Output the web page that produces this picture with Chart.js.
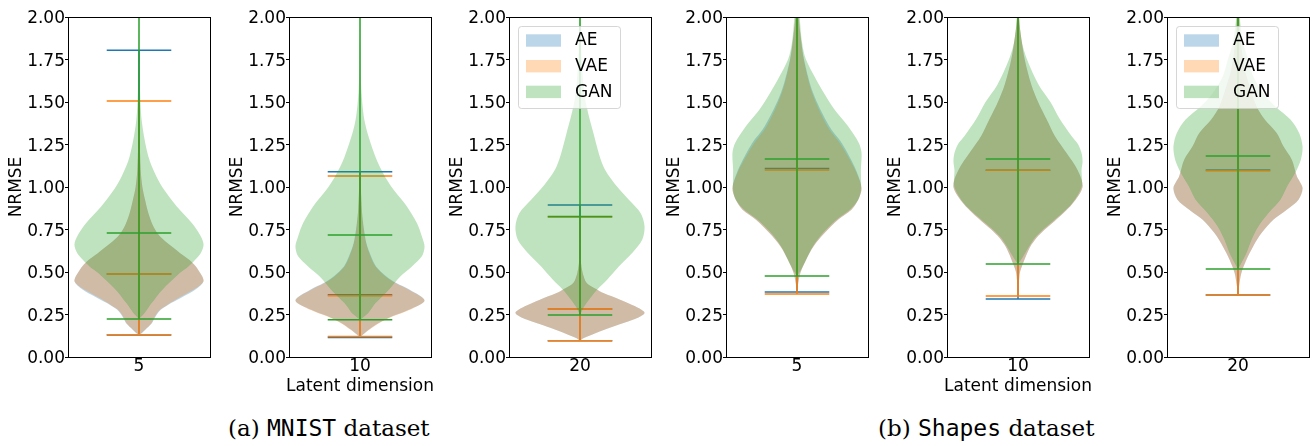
<!DOCTYPE html>
<html>
<head>
<meta charset="utf-8">
<script src="https://cdn.jsdelivr.net/npm/chart.js@4.4.0/dist/chart.umd.min.js"></script>
<style>
  html, body { margin: 0; padding: 0; background: #fff; }
  body { width: 1316px; height: 446px; position: relative; overflow: hidden; }
  canvas { position: absolute; top: 0; }
  .cap { position: absolute; top: 417px; font-family: "DejaVu Serif", serif; font-size: 23px;
         line-height: 23px; color: #000; white-space: nowrap; }
  .cap .tt { font-family: "DejaVu Sans Mono", monospace; }
</style>
</head>
<body>
<div class="cap" style="left:228px">(a) <span class="tt">MNIST</span> dataset</div>
<div class="cap" style="left:878px">(b) <span class="tt">Shapes</span> dataset</div>
<script>
"use strict";

const SERIES = ["AE", "VAE", "GAN"];
const DIMS = ["5", "10", "20", "5", "10", "20"];
const Y_TICKS = [0, 0.25, 0.5, 0.75, 1, 1.25, 1.5, 1.75, 2];

// violin profiles: [NRMSE, relative density]
const MNIST5_AE = [[0.13, 0], [0.141, 9], [0.17, 24], [0.2, 39], [0.239, 50], [0.26, 57], [0.278, 65], [0.3, 82], [0.317, 96], [0.357, 134], [0.396, 168], [0.42, 184], [0.445, 193], [0.47, 190], [0.494, 183], [0.533, 170], [0.572, 150], [0.611, 123], [0.65, 98], [0.709, 63], [0.768, 43], [0.846, 28], [0.925, 18], [1.0, 10], [1.1, 5], [1.3, 2], [1.5, 0.8], [1.804, 0]];
const MNIST5_VAE = [[0.131, 0], [0.141, 8], [0.17, 23], [0.2, 38], [0.239, 48], [0.26, 55], [0.278, 63], [0.3, 80], [0.317, 93], [0.357, 128], [0.396, 163], [0.42, 182], [0.445, 193], [0.47, 190], [0.494, 183], [0.533, 170], [0.572, 150], [0.611, 123], [0.65, 98], [0.709, 63], [0.768, 43], [0.846, 28], [0.925, 18], [1.0, 10], [1.1, 5], [1.3, 2], [1.506, 0]];
const MNIST5_GAN = [[0.224, 0], [0.259, 17], [0.317, 38], [0.396, 70], [0.494, 122], [0.533, 148], [0.572, 168], [0.612, 185], [0.66, 193], [0.709, 185], [0.788, 158], [0.886, 113], [0.984, 75], [1.062, 52], [1.18, 28], [1.376, 9], [1.572, 3], [1.8, 1.2], [2.1, 0.5], [2.6, 0]];
const MNIST5_MIN = [0.13, 0.131, 0.224];
const MNIST5_MEAN = [0.488, 0.488, 0.729];
const MNIST5_MAX = [1.804, 1.506, 2.6];

const MNIST10_AE = [[0.115, 0], [0.16, 26], [0.2, 56], [0.239, 96], [0.278, 146], [0.333, 193], [0.396, 149], [0.435, 109], [0.474, 79], [0.533, 48], [0.592, 33], [0.67, 19], [0.75, 12], [0.85, 6], [1.0, 2.5], [1.09, 0]];
const MNIST10_VAE = [[0.12, 0], [0.16, 28], [0.2, 58], [0.239, 99], [0.278, 149], [0.333, 193], [0.396, 146], [0.435, 106], [0.474, 76], [0.533, 46], [0.592, 31], [0.67, 18], [0.75, 11], [0.85, 6], [1.0, 2], [1.065, 0]];
const MNIST10_GAN = [[0.219, 0], [0.259, 25], [0.317, 47], [0.396, 87], [0.474, 121], [0.533, 156], [0.592, 186], [0.65, 194], [0.709, 186], [0.788, 171], [0.886, 141], [0.984, 101], [1.062, 75], [1.18, 46], [1.376, 15], [1.572, 4], [1.8, 1.5], [2.1, 0.5], [2.6, 0]];
const MNIST10_MIN = [0.115, 0.12, 0.219];
const MNIST10_MEAN = [0.366, 0.36, 0.717];
const MNIST10_MAX = [1.09, 1.065, 2.6];

const MNIST20_AE = [[0.096, 0], [0.11, 10], [0.14, 46], [0.18, 100], [0.22, 160], [0.259, 193], [0.298, 165], [0.337, 120], [0.376, 70], [0.4, 48], [0.435, 20], [0.494, 8], [0.572, 2], [0.65, 0.5], [0.894, 0]];
const MNIST20_VAE = [[0.096, 0], [0.11, 10], [0.14, 46], [0.18, 100], [0.22, 160], [0.259, 193], [0.298, 165], [0.337, 120], [0.376, 70], [0.4, 48], [0.435, 20], [0.494, 8], [0.572, 2], [0.65, 0.5], [0.823, 0]];
const MNIST20_GAN = [[0.247, 0], [0.259, 3], [0.298, 13], [0.337, 27], [0.396, 51], [0.455, 81], [0.533, 116], [0.612, 156], [0.69, 186], [0.768, 193], [0.847, 181], [0.925, 146], [1.004, 110], [1.121, 70], [1.318, 40], [1.513, 16], [1.75, 5], [2.0, 2], [2.2, 0.5], [2.6, 0]];
const MNIST20_MIN = [0.096, 0.096, 0.247];
const MNIST20_MEAN = [0.282, 0.282, 0.827];
const MNIST20_MAX = [0.894, 0.823, 2.6];

const SHAPES5_AE = [[0.382, 0], [0.415, 2], [0.494, 10], [0.572, 27], [0.65, 49], [0.729, 82], [0.808, 122], [0.866, 162], [0.925, 182], [0.993, 192], [1.082, 179], [1.16, 161], [1.259, 133], [1.357, 96], [1.553, 48], [1.749, 21], [1.9, 10], [2.0, 5], [2.2, 1], [2.6, 0]];
const SHAPES5_VAE = [[0.37, 0], [0.415, 2], [0.494, 10], [0.572, 27], [0.65, 49], [0.729, 82], [0.808, 122], [0.866, 162], [0.925, 182], [0.993, 192], [1.082, 177], [1.16, 157], [1.259, 127], [1.357, 90], [1.553, 45], [1.749, 20], [1.9, 10], [2.0, 5], [2.2, 1], [2.6, 0]];
const SHAPES5_GAN = [[0.476, 0], [0.513, 12], [0.572, 27], [0.65, 47], [0.729, 77], [0.808, 117], [0.866, 157], [0.925, 182], [0.984, 190], [1.102, 190], [1.2, 192], [1.259, 184], [1.357, 152], [1.455, 112], [1.553, 80], [1.749, 27], [1.85, 15], [2.0, 8], [2.2, 2], [2.6, 0]];
const SHAPES5_MIN = [0.382, 0.37, 0.476];
const SHAPES5_MEAN = [1.109, 1.1, 1.165];
const SHAPES5_MAX = [2.6, 2.6, 2.6];

const SHAPES10_AE = [[0.341, 0], [0.4, 1], [0.45, 3], [0.5, 6], [0.55, 15], [0.6, 25], [0.65, 37], [0.7, 55], [0.75, 80], [0.8, 110], [0.9, 162], [1.0, 193], [1.1, 178], [1.2, 145], [1.3, 110], [1.4, 85], [1.5, 60], [1.6, 40], [1.75, 20], [1.9, 8], [2.0, 3], [2.2, 0.5], [2.6, 0]];
const SHAPES10_VAE = [[0.359, 0], [0.4, 1], [0.45, 3], [0.5, 6], [0.55, 15], [0.6, 25], [0.65, 37], [0.7, 55], [0.75, 80], [0.8, 110], [0.9, 162], [1.0, 193], [1.1, 178], [1.2, 145], [1.3, 110], [1.4, 85], [1.5, 60], [1.6, 40], [1.75, 20], [1.9, 8], [2.0, 3], [2.2, 0.5], [2.6, 0]];
const SHAPES10_GAN = [[0.547, 0], [0.56, 5], [0.6, 18], [0.65, 33], [0.7, 50], [0.75, 75], [0.8, 105], [0.9, 160], [1.0, 190], [1.1, 190], [1.15, 193], [1.2, 190], [1.25, 180], [1.3, 160], [1.4, 125], [1.5, 97], [1.6, 62], [1.75, 27], [1.85, 12], [2.0, 3], [2.2, 0.5], [2.6, 0]];
const SHAPES10_MIN = [0.341, 0.359, 0.547];
const SHAPES10_MEAN = [1.098, 1.098, 1.165];
const SHAPES10_MAX = [2.6, 2.6, 2.6];

const SHAPES20_AE = [[0.365, 0], [0.415, 3], [0.494, 10], [0.572, 25], [0.65, 45], [0.729, 70], [0.807, 105], [0.866, 145], [0.925, 180], [0.994, 192], [1.063, 175], [1.16, 160], [1.239, 135], [1.318, 115], [1.396, 80], [1.474, 55], [1.59, 35], [1.69, 20], [1.85, 8], [2.0, 3], [2.2, 0.5], [2.6, 0]];
const SHAPES20_VAE = [[0.364, 0], [0.415, 3], [0.494, 10], [0.572, 25], [0.65, 45], [0.729, 70], [0.807, 105], [0.866, 145], [0.925, 180], [0.994, 192], [1.063, 175], [1.16, 160], [1.239, 135], [1.318, 115], [1.396, 80], [1.474, 55], [1.59, 35], [1.69, 20], [1.85, 8], [2.0, 3], [2.2, 0.5], [2.6, 0]];
const SHAPES20_GAN = [[0.518, 0], [0.553, 10], [0.612, 25], [0.69, 40], [0.768, 60], [0.847, 90], [0.925, 125], [1.004, 145], [1.082, 168], [1.161, 185], [1.239, 190], [1.318, 180], [1.396, 155], [1.474, 110], [1.55, 75], [1.65, 45], [1.75, 30], [1.85, 15], [2.0, 5], [2.2, 1], [2.6, 0]];
const SHAPES20_MIN = [0.365, 0.364, 0.518];
const SHAPES20_MEAN = [1.1, 1.095, 1.182];
const SHAPES20_MAX = [2.6, 2.6, 2.6];

// matplotlib tab colours; bodies at alpha .3
const LINE = ["#1f77b4", "#ff7f0e", "#2ca02c"];
const BODY = ["rgba(31,119,180,0.3)", "rgba(255,127,14,0.3)", "rgba(44,160,44,0.3)"];

// layout (px)
const PLOT_LEFT = [68, 289, 509, 726, 947, 1167];
const PLOT_W = 142, PLOT_TOP = 17, PLOT_BOTTOM = 357, H = 446;
const Y_AXIS_W = 62, PAD_R = 12;
const HALF = 0.25, CAP = 0.125, XLIM = 0.275;  // violin half width, cap half length, x range
const FONT = '"DejaVu Sans", sans-serif';

const PANELS = [
  { prof: [MNIST5_AE, MNIST5_VAE, MNIST5_GAN], min: MNIST5_MIN, mean: MNIST5_MEAN, max: MNIST5_MAX },
  { prof: [MNIST10_AE, MNIST10_VAE, MNIST10_GAN], min: MNIST10_MIN, mean: MNIST10_MEAN, max: MNIST10_MAX, xTitle: "Latent dimension" },
  { prof: [MNIST20_AE, MNIST20_VAE, MNIST20_GAN], min: MNIST20_MIN, mean: MNIST20_MEAN, max: MNIST20_MAX, legend: true },
  { prof: [SHAPES5_AE, SHAPES5_VAE, SHAPES5_GAN], min: SHAPES5_MIN, mean: SHAPES5_MEAN, max: SHAPES5_MAX },
  { prof: [SHAPES10_AE, SHAPES10_VAE, SHAPES10_GAN], min: SHAPES10_MIN, mean: SHAPES10_MEAN, max: SHAPES10_MAX, xTitle: "Latent dimension" },
  { prof: [SHAPES20_AE, SHAPES20_VAE, SHAPES20_GAN], min: SHAPES20_MIN, mean: SHAPES20_MEAN, max: SHAPES20_MAX, legend: true },
];

Chart.defaults.font.family = FONT;
Chart.defaults.font.size = 17;
Chart.defaults.color = "#000";

// closed outline: up the right side, back down the left
function violin(profile, i) {
  const peak = Math.max(...profile.map((p) => p[1]));
  const right = profile.map(([y, w]) => ({ x: HALF * w / peak, y }));
  const left = profile.slice(1).reverse().map(([y, w]) => ({ x: -HALF * w / peak, y }));
  return {
    data: right.concat(left),
    backgroundColor: BODY[i],
    borderColor: "transparent",
    borderWidth: 0,
    fill: "shape",
    tension: 0.3,
    pointRadius: 0,
  };
}

function seg(pts, i) {
  return { data: pts, borderColor: LINE[i], borderWidth: 1.5, fill: false, tension: 0, pointRadius: 0 };
}

function bars(lo, mid, hi, i) {
  return [
    seg([{ x: -CAP, y: hi }, { x: CAP, y: hi }], i),
    seg([{ x: -CAP, y: lo }, { x: CAP, y: lo }], i),
    seg([{ x: 0, y: lo }, { x: 0, y: hi }], i),
    seg([{ x: -CAP, y: mid }, { x: CAP, y: mid }], i),
  ];
}

const frame = {
  id: "frame",
  afterDraw(chart) {
    const { ctx, chartArea: a } = chart;
    ctx.save();
    ctx.strokeStyle = "#000";
    ctx.lineWidth = 1;
    ctx.strokeRect(a.left + 0.5, a.top + 0.5, a.right - a.left, a.bottom - a.top);
    ctx.restore();
  },
};

const violinLegend = {
  id: "violinLegend",
  afterDatasetsDraw(chart, args, opts) {
    if (!opts.show) return;
    const { ctx, chartArea: a } = chart;
    ctx.save();
    ctx.beginPath();
    ctx.roundRect(a.left + 9.5, a.top + 9.5, 102, 82, 3);
    ctx.fillStyle = "rgba(255,255,255,0.8)";
    ctx.fill();
    ctx.strokeStyle = "rgba(204,204,204,0.8)";
    ctx.lineWidth = 1;
    ctx.stroke();
    ctx.font = "17px " + FONT;
    ctx.textBaseline = "middle";
    SERIES.forEach((name, i) => {
      const cy = a.top + 23.5 + i * 25.7;
      ctx.fillStyle = BODY[i];
      ctx.fillRect(a.left + 17, cy - 6.2, 35, 12.4);
      ctx.fillStyle = "#000";
      ctx.fillText(name, a.left + 66, cy + 0.5);
    });
    ctx.restore();
  },
};

// x title drawn by hand so it is not squeezed to the plot width
const xTitle = {
  id: "xTitle",
  afterDraw(chart, args, opts) {
    if (!opts.text) return;
    const { ctx, chartArea: a } = chart;
    ctx.save();
    ctx.font = "17px " + FONT;
    ctx.fillStyle = "#000";
    ctx.textAlign = "center";
    ctx.textBaseline = "alphabetic";
    ctx.fillText(opts.text, (a.left + a.right) / 2, 390.7);
    ctx.restore();
  },
};

PANELS.forEach((p, k) => {
  const cv = document.createElement("canvas");
  cv.width = Y_AXIS_W + PLOT_W + PAD_R;
  cv.height = H;
  cv.style.left = (PLOT_LEFT[k] - Y_AXIS_W) + "px";
  document.body.appendChild(cv);

  const ds = [];
  SERIES.forEach((name, i) => {
    ds.push(violin(p.prof[i], i));
    ds.push(...bars(p.min[i], p.mean[i], p.max[i], i));
  });
  // chart.js paints higher order first: keep matplotlib's drawing order
  ds.forEach((d, n) => { d.order = ds.length - n; });

  new Chart(cv, {
    type: "line",
    data: { datasets: ds },
    options: {
      responsive: false,
      animation: false,
      devicePixelRatio: 1,
      layout: { padding: { top: PLOT_TOP, right: PAD_R, left: 0, bottom: 0 } },
      plugins: {
        legend: { display: false },
        tooltip: { enabled: false },
        violinLegend: { show: !!p.legend },
        xTitle: { text: p.xTitle || "" },
      },
      scales: {
        x: {
          type: "linear",
          min: -XLIM,
          max: XLIM,
          afterBuildTicks: (ax) => { ax.ticks = [{ value: 0 }]; },
          afterFit: (s) => { s.height = H - PLOT_BOTTOM; },
          grid: { display: false, drawTicks: false },
          border: { display: false },
          ticks: { padding: -1, maxRotation: 0, callback: () => DIMS[k] },
        },
        y: {
          min: 0,
          max: 2,
          afterBuildTicks: (ax) => { ax.ticks = Y_TICKS.map((v) => ({ value: v })); },
          afterFit: (s) => { s.width = Y_AXIS_W; },
          grid: { drawOnChartArea: false, drawTicks: true, tickLength: 3, color: "#000" },
          border: { display: false },
          ticks: { padding: 0, labelOffset: 2, callback: (v) => Number(v).toFixed(2) },
          title: { display: true, text: "NRMSE", padding: { top: 0.5, bottom: 0 } },
        },
      },
    },
    plugins: [violinLegend, xTitle, frame],
  });
});
</script>
</body>
</html>
